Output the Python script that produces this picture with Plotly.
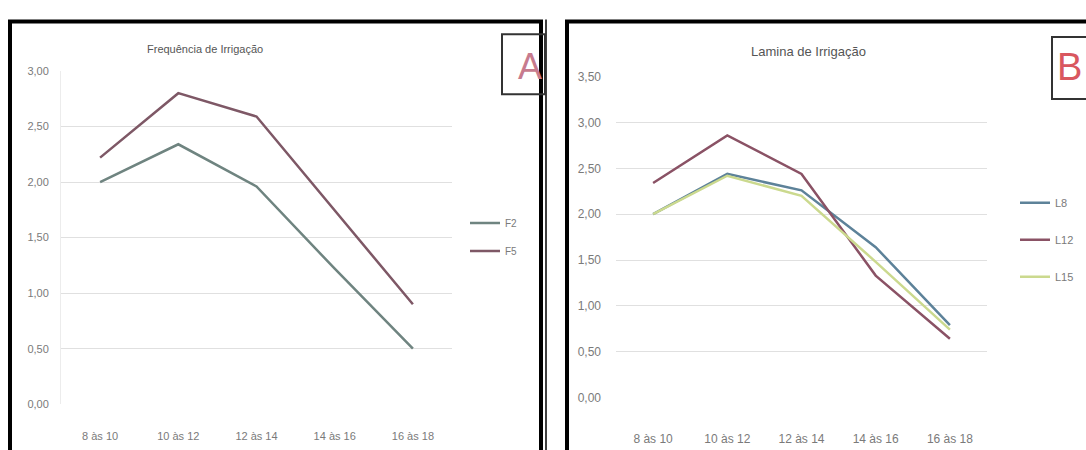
import plotly.graph_objects as go

W, H = 1086, 450

# ---- data ----
categories = ["8 às 10", "10 às 12", "12 às 14", "14 às 16", "16 às 18"]
f2 = [2.00, 2.34, 1.96, 1.22, 0.50]
f5 = [2.22, 2.80, 2.59, 1.75, 0.90]
l8 = [2.00, 2.44, 2.26, 1.64, 0.79]
l12 = [2.34, 2.86, 2.44, 1.33, 0.64]
l15 = [2.00, 2.42, 2.20, 1.48, 0.74]
title_a = "Frequência de Irrigação"
title_b = "Lamina de Irrigação"

FONT = "Liberation Sans Narrow, Arial Narrow, Liberation Sans, sans-serif"
TICK_C = "#7a7a7a"
GRID_C = "#e0e0e0"


def px(x):
    return x / W


def py(y):
    return 1 - y / H


fig = go.Figure()

# left chart
fig.add_trace(go.Scatter(x=categories, y=f2, name="F2", mode="lines",
                         line=dict(color="#6f8480", width=2.5),
                         xaxis="x", yaxis="y", legend="legend", legendgroup="a1"))
fig.add_trace(go.Scatter(x=categories, y=f5, name="F5", mode="lines",
                         line=dict(color="#7e5866", width=2.5),
                         xaxis="x", yaxis="y", legend="legend", legendgroup="a2"))
# right chart
fig.add_trace(go.Scatter(x=categories, y=l8, name="L8", mode="lines",
                         line=dict(color="#5d8299", width=2.5),
                         xaxis="x2", yaxis="y2", legend="legend2", legendgroup="b1"))
fig.add_trace(go.Scatter(x=categories, y=l12, name="L12", mode="lines",
                         line=dict(color="#8a5265", width=2.5),
                         xaxis="x2", yaxis="y2", legend="legend2", legendgroup="b2"))
fig.add_trace(go.Scatter(x=categories, y=l15, name="L15", mode="lines",
                         line=dict(color="#cbd98e", width=2.5),
                         xaxis="x2", yaxis="y2", legend="legend2", legendgroup="b3"))

tickfont_l = dict(family=FONT, size=11, color=TICK_C)
tickfont_r = dict(family=FONT, size=12, color=TICK_C)

fig.update_layout(
    width=W, height=H,
    margin=dict(l=0, r=0, t=0, b=0),
    paper_bgcolor="white", plot_bgcolor="white",
    separators=",.",
    font=dict(family=FONT, color=TICK_C),
    xaxis=dict(domain=[px(61), px(452)], anchor="y", type="category",
               range=[-0.5, 4.5], showgrid=False, zeroline=False, showline=False,
               ticks="", tickfont=tickfont_l, ticklabelstandoff=24),
    yaxis=dict(domain=[py(410), py(66)], anchor="x", range=[0, 3], dtick=0.5,
               tickformat=".2f", showgrid=True, gridcolor=GRID_C, gridwidth=1,
               zeroline=False, showline=True, linecolor="#ececec", linewidth=1,
               ticks="", tickfont=tickfont_l, ticklabelstandoff=9),
    xaxis2=dict(domain=[px(616), px(987)], anchor="y2", type="category",
                range=[-0.5, 4.5], showgrid=False, zeroline=False, showline=False,
                ticks="", tickfont=tickfont_r, ticklabelstandoff=33),
    yaxis2=dict(domain=[py(403), py(72)], anchor="x2", range=[0, 3.5], dtick=0.5,
                tickformat=".2f", showgrid=True, gridcolor=GRID_C, gridwidth=1,
                zeroline=False, showline=False,
                ticks="", tickfont=tickfont_r, ticklabelstandoff=14),
    legend=dict(x=px(465), y=py(208), xanchor="left", yanchor="top",
                bgcolor="rgba(0,0,0,0)", font=dict(family=FONT, size=10, color=TICK_C),
                itemwidth=30, tracegroupgap=9),
    legend2=dict(x=px(1015), y=py(187), xanchor="left", yanchor="top",
                 bgcolor="rgba(0,0,0,0)", font=dict(family=FONT, size=11, color=TICK_C),
                 itemwidth=30, tracegroupgap=18),
    showlegend=True,
)

shapes = []
# panel frames
shapes.append(dict(type="rect", xref="paper", yref="paper",
                   x0=px(10), x1=px(541), y0=py(460), y1=py(15),
                   line=dict(color="black", width=4), fillcolor="rgba(0,0,0,0)"))
shapes.append(dict(type="line", xref="paper", yref="paper",
                   x0=px(546), x1=px(546), y0=py(460), y1=py(13),
                   line=dict(color="black", width=1.5)))
shapes.append(dict(type="rect", xref="paper", yref="paper",
                   x0=px(567), x1=px(1100), y0=py(460), y1=py(15),
                   line=dict(color="black", width=4), fillcolor="rgba(0,0,0,0)"))
# label boxes
shapes.append(dict(type="rect", xref="paper", yref="paper",
                   x0=px(502), x1=px(545), y0=py(90), y1=py(28),
                   line=dict(color="#333333", width=2), fillcolor="rgba(0,0,0,0)"))
shapes.append(dict(type="rect", xref="paper", yref="paper",
                   x0=px(1052), x1=px(1100), y0=py(95), y1=py(31),
                   line=dict(color="#333333", width=2), fillcolor="rgba(0,0,0,0)"))
fig.update_layout(shapes=shapes)

annotations = [
    dict(text=title_a, x=px(205), y=py(43), xref="paper", yref="paper",
         xanchor="center", yanchor="middle",
         showarrow=False, font=dict(family=FONT, size=11, color="#555555")),
    dict(text=title_b, x=px(808), y=py(46), xref="paper", yref="paper",
         xanchor="center", yanchor="middle",
         showarrow=False, font=dict(family=FONT, size=13, color="#555555")),
    dict(text="A", x=px(530), y=py(61), xref="paper", yref="paper",
         xanchor="center", yanchor="middle",
         showarrow=False, font=dict(family=FONT, size=36, color="#c77b8e")),
    dict(text="B", x=px(1084), y=py(62), xref="paper", yref="paper",
         xanchor="right", yanchor="middle",
         showarrow=False, font=dict(family=FONT, size=38, color="#d9575f")),
]
fig.update_layout(annotations=annotations)

fig.write_html("out.html", config={"displayModeBar": False},
               post_script="document.body.style.margin='0';document.body.style.overflow='hidden';")
